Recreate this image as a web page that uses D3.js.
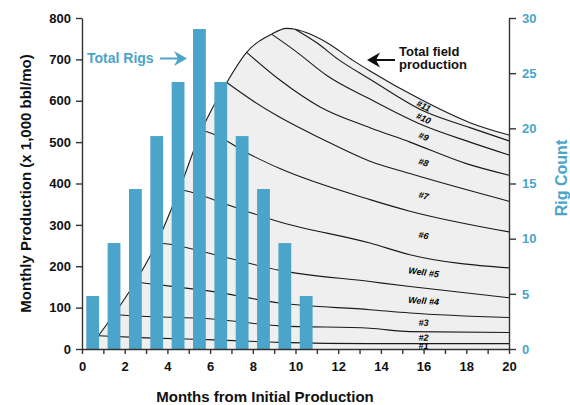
<!DOCTYPE html>
<html>
<head>
<meta charset="utf-8">
<script src="https://cdn.jsdelivr.net/npm/d3@7"></script>
<style>
  body { margin: 0; background: #fff; }
  svg text { font-family: Arial, "Liberation Sans", sans-serif; font-weight: bold; }
</style>
</head>
<body>
<script>
// rig count bars (month centre, rigs)
const rigMonths = [0.5, 1.5, 2.5, 3.5, 4.5, 5.5, 6.5, 7.5, 8.5, 9.5, 10.5];
const rigCounts = [4.8, 9.6, 14.5, 19.3, 24.2, 29, 24.2, 19.3, 14.5, 9.6, 4.8];

// cumulative production, top edge of each well band [month, 1000 bbl/mo]
const well1Top = [[0.77, 32], [3, 27], [6.23, 22], [9.27, 16], [13.49, 13], [20, 13]];
const well2Top = [[1.5, 84], [1.8, 82], [6.23, 72], [9.27, 56], [13.49, 50], [15.36, 42], [20, 40]];
const well3Top = [[2.5, 162], [2.8, 160], [6.23, 138], [9.27, 111], [13.49, 95], [15.36, 87], [20, 76]];
const well4Top = [[3.5, 256], [3.8, 255], [6.23, 228], [9.27, 190], [13.49, 163], [15.36, 151], [20, 124]];
const well5Top = [[4.55, 385], [4.8, 383], [6.78, 349], [9.27, 307], [13.49, 256], [15.36, 228], [20, 196]];
const well6Top = [[5.6, 528], [5.85, 525], [7.87, 470], [9.27, 436], [13.49, 361], [15.36, 333], [20, 283]];
const well7Top = [[6.78, 644], [8, 600], [9.27, 560], [11.15, 510], [13.49, 454], [15.36, 424], [20, 357]];
const well8Top = [[7.71, 717], [9.27, 650], [11.15, 585], [13.49, 535], [15.36, 500], [18, 448], [20, 420]];
const well9Top = [[8.88, 761], [10, 720], [11.5, 660], [13.49, 604], [16, 540], [18.17, 500], [20, 469]];
const well10Top = [[9.98, 773], [11, 740], [12, 700], [13.49, 652], [16, 575], [18.17, 535], [20, 503]];
const totalField = [[0.77, 32], [1.5, 84], [2.5, 162], [3.5, 256], [4.55, 385], [5.6, 528], [6.78, 644],
  [7.71, 717], [8.88, 761], [9.58, 775], [9.98, 773], [10.5, 765], [11.46, 741], [12.71, 697],
  [13.49, 672], [15.83, 604], [18.17, 547], [20, 517]];

const wellLabels = ["#1", "#2", "#3", "Well #4", "Well #5", "#6", "#7", "#8", "#9", "#10", "#11"];
const labelMonth = 16;

const monthTicks = d3.range(0, 21);
const prodTicks = d3.range(0, 801, 100);
const rigTicks = [0, 5, 10, 15, 20, 25, 30];

const blue = "#4ba4c9";
const width = 570, height = 405;

const svg = d3.select("body").append("svg")
    .attr("width", width)
    .attr("height", height);

const x = d3.scaleLinear().domain([0, 20]).range([82, 509]);
const y = d3.scaleLinear().domain([0, 800]).range([349, 18]);
const yR = d3.scaleLinear().domain([0, 30]).range([349, 18]);

const curve = d3.curveMonotoneX;
const tops = [well1Top, well2Top, well3Top, well4Top, well5Top, well6Top,
  well7Top, well8Top, well9Top, well10Top, totalField];

// shaded area under the total field curve
svg.append("path")
    .datum(totalField)
    .attr("fill", "#efefef")
    .attr("d", d3.area().curve(curve)
        .x(d => x(d[0])).y0(y(0)).y1(d => y(d[1])));

// band boundaries
const line = d3.line().curve(curve).x(d => x(d[0])).y(d => y(d[1]));
svg.selectAll(".well")
    .data(tops)
    .enter().append("path")
    .attr("fill", "none")
    .attr("stroke", "#1a1a1a")
    .attr("stroke-width", 1.1)
    .attr("d", line);

// value of a polyline at month m
function valueAt(pts, m) {
    if (m <= pts[0][0]) return pts[0][1];
    for (let i = 1; i < pts.length; i++) {
        if (m <= pts[i][0]) {
            const t = (m - pts[i - 1][0]) / (pts[i][0] - pts[i - 1][0]);
            return pts[i - 1][1] + t * (pts[i][1] - pts[i - 1][1]);
        }
    }
    return pts[pts.length - 1][1];
}
function midAt(i, m) {
    const lo = i === 0 ? 0 : valueAt(tops[i - 1], m);
    return (lo + valueAt(tops[i], m)) / 2;
}

svg.selectAll(".lab")
    .data(wellLabels)
    .enter().append("text")
    .attr("font-size", 9)
    .attr("font-style", "italic")
    .attr("text-anchor", "middle")
    .attr("dy", "0.35em")
    .attr("transform", (d, i) => {
        const px = x(labelMonth), py = y(midAt(i, labelMonth));
        const dy = y(midAt(i, labelMonth + 1)) - y(midAt(i, labelMonth - 1));
        const ang = Math.atan2(dy, x(labelMonth + 1) - x(labelMonth - 1)) * 180 / Math.PI;
        return `translate(${px},${py}) rotate(${ang})`;
    })
    .text(d => d);

// rig bars
const barW = x(0.6) - x(0);
svg.selectAll(".bar")
    .data(rigCounts)
    .enter().append("rect")
    .attr("fill", blue)
    .attr("x", (d, i) => x(rigMonths[i]) - barW / 2)
    .attr("width", barW)
    .attr("y", d => yR(d))
    .attr("height", d => yR(0) - yR(d));

// axes
const axisLeft = svg.append("g")
    .attr("transform", `translate(${x(0)},0)`)
    .call(d3.axisLeft(y).tickValues(prodTicks).tickSize(6).tickPadding(5).tickSizeOuter(0));
const axisBottom = svg.append("g")
    .attr("transform", `translate(0,${y(0)})`)
    .call(d3.axisBottom(x).tickValues(monthTicks).tickSize(5).tickPadding(8).tickSizeOuter(0)
        .tickFormat(d => d % 2 === 0 ? d : ""));
const axisRight = svg.append("g")
    .attr("transform", `translate(${x(20)},0)`)
    .call(d3.axisRight(yR).tickValues(rigTicks).tickSize(7).tickPadding(6).tickSizeOuter(0));

[axisLeft, axisBottom, axisRight].forEach(g => {
    g.selectAll("path, line").attr("stroke", "#333").attr("stroke-width", 1.4);
    g.selectAll("text").attr("font-size", 13).attr("fill", "#111")
        .attr("font-family", "Arial, 'Liberation Sans', sans-serif").attr("font-weight", "bold");
});
axisRight.selectAll("text").attr("fill", blue);

// axis titles
svg.append("text")
    .attr("transform", `translate(26,${(y(0) + y(800)) / 2}) rotate(-90)`)
    .attr("text-anchor", "middle")
    .attr("dy", "0.35em")
    .attr("font-size", 15)
    .attr("fill", "#111")
    .text("Monthly Production (x 1,000 bbl/mo)");
svg.append("text")
    .attr("x", 265)
    .attr("y", 402)
    .attr("text-anchor", "middle")
    .attr("font-size", 15)
    .attr("fill", "#111")
    .text("Months from Initial Production");
svg.append("text")
    .attr("transform", `translate(561,178) rotate(-90)`)
    .attr("text-anchor", "middle")
    .attr("dy", "0.35em")
    .attr("font-size", 16)
    .attr("fill", blue)
    .text("Rig Count");

// annotations
function arrow(g, x1, x2, yy, color) {
    const dir = x2 > x1 ? 1 : -1;
    g.append("line")
        .attr("x1", x1).attr("x2", x2 - dir * 8)
        .attr("y1", yy).attr("y2", yy)
        .attr("stroke", color).attr("stroke-width", 2);
    g.append("path")
        .attr("fill", color)
        .attr("d", `M${x2},${yy} L${x2 - dir * 13},${yy - 7.5} L${x2 - dir * 9},${yy} L${x2 - dir * 13},${yy + 7.5} Z`);
}

svg.append("text")
    .attr("x", 87).attr("y", 63)
    .attr("font-size", 14)
    .attr("fill", blue)
    .text("Total Rigs");
arrow(svg, 160, 187, 58.5, blue);

svg.append("text")
    .attr("x", 399).attr("y", 55.5)
    .attr("font-size", 13)
    .attr("fill", "#111")
    .text("Total field");
svg.append("text")
    .attr("x", 399).attr("y", 69)
    .attr("font-size", 13)
    .attr("fill", "#111")
    .text("production");
arrow(svg, 395, 367, 60, "#111");
</script>
</body>
</html>
